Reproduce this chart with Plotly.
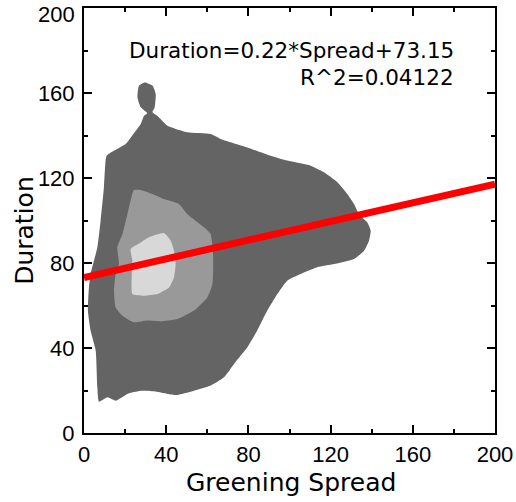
import plotly.graph_objects as go

# Regression fit reported on the chart
slope = 0.22
intercept = 73.15
r_squared = 0.04122

# Density contour outlines (Greening Spread, Duration)
outer_x = [11.0, 13.0, 20.3, 23.5, 27.6, 29.2, 30.8, 27.6, 26.0, 26.8, 29.5, 33.3, 34.9, 34.4,
           33.3, 35.7, 40.6, 50.3, 61.6, 66.5, 79.5, 89.2, 98.9, 110.3, 116.8, 123.3, 128.1,
           131.4, 133.8, 137.9, 139.5, 138.7, 136.3, 131.4, 121.7, 113.5, 105.4, 98.9, 94.1,
           89.2, 84.3, 79.5, 73.0, 68.1, 61.6, 53.5, 45.4, 40.6, 34.1, 27.6, 21.1, 15.4, 11.4,
           7.3, 6.5, 5.7, 3.2, 1.9, 2.4, 3.2, 6.5, 8.1, 9.7, 10.5]
outer_y = [130.5, 132.0, 136.0, 140.0, 145.4, 149.3, 150.5, 153.3, 158.0, 163.5, 165.0, 163.5,
           159.5, 153.3, 151.0, 149.3, 144.6, 141.5, 140.7, 138.4, 134.4, 131.0, 128.2, 125.8,
           122.7, 118.0, 112.5, 107.8, 103.0, 99.1, 95.2, 90.5, 85.8, 81.9, 79.5, 78.0, 74.8,
           71.7, 65.4, 57.6, 48.2, 40.3, 32.5, 26.2, 22.3, 19.9, 17.9, 18.4, 19.6, 19.9, 18.4,
           15.2, 16.8, 14.7, 21.5, 38.7, 48.2, 57.6, 68.5, 74.8, 87.4, 100.0, 115.6, 128.2]

middle_x = [24.3, 27.6, 33.3, 38.9, 46.2, 50.3, 58.4, 61.6, 62.8, 62.5, 60.0, 53.5, 45.4, 37.3,
            30.8, 24.3, 18.7, 15.4, 14.6, 15.4, 17.0, 16.2, 18.7, 21.1, 23.5]
middle_y = [114.4, 114.4, 112.5, 110.1, 107.8, 103.0, 96.8, 93.6, 84.2, 70.1, 63.8, 57.6, 53.6,
            52.5, 52.9, 52.1, 55.2, 59.1, 67.0, 74.8, 79.5, 87.4, 93.6, 103.0, 112.5]

inner_x = [22.7, 27.6, 31.6, 38.9, 42.2, 43.8, 44.6, 43.8, 41.4, 35.7, 29.2, 23.5, 23.2, 23.5]
inner_y = [86.6, 89.7, 92.1, 94.1, 90.5, 85.8, 79.5, 73.3, 68.5, 65.4, 64.6, 65.4, 73.3, 81.2]

tick_vals = [0, 40, 80, 120, 160, 200]
tick_text = ["0", "40", "80", "120", "160", "200"]

fig = go.Figure()

levels = [
    (outer_x, outer_y, "#646464"),
    (middle_x, middle_y, "#999999"),
    (inner_x, inner_y, "#d8d8d8"),
]
for xs, ys, color in levels:
    fig.add_trace(go.Scatter(
        x=xs + [xs[0]], y=ys + [ys[0]], mode="lines", fill="toself",
        fillcolor=color, line=dict(width=0, color=color, shape="spline", smoothing=0.5),
        hoverinfo="skip",
    ))

fit_x = [0, 200]
fit_y = [slope * v + intercept for v in fit_x]
fig.add_trace(go.Scatter(x=fit_x, y=fit_y, mode="lines",
                         line=dict(color="#ff0000", width=7)))

tick_font = dict(family="Liberation Sans", size=22, color="black")
axis_common = dict(
    range=[0, 200], tickvals=tick_vals,
    ticks="inside", ticklen=8, tickwidth=2, tickcolor="black",
    showline=True, linewidth=2, linecolor="black", mirror="ticks",
    showgrid=False, zeroline=False, ticklabeloverflow="allow", automargin=False,
    tickfont=tick_font,
    minor=dict(dtick=20, ticks="inside", ticklen=4, tickwidth=2, tickcolor="black",
               showgrid=False),
)

# The top y label sits just below the frame so it stays on the page;
# it is drawn separately, the rest come from the axis.
y_tick_text = tick_text[:-1] + [""]

fig.update_layout(
    width=516, height=502,
    margin=dict(l=84, r=21, t=8, b=69, autoexpand=False),
    plot_bgcolor="white", paper_bgcolor="white",
    showlegend=False,
    xaxis=dict(**axis_common, ticktext=tick_text, ticklabelstandoff=1),
    yaxis=dict(**axis_common, ticktext=y_tick_text, ticklabelstandoff=3),
)

fig.add_annotation(text=tick_text[-1], xref="paper", yref="paper",
                   x=-0.0195, y=0.984, xanchor="right", yanchor="middle",
                   showarrow=False, font=tick_font, borderpad=0)

title_font = dict(family="DejaVu Sans", size=25, color="black")
fig.add_annotation(text="Greening Spread", xref="paper", yref="paper",
                   x=0.504, y=-0.1176, xanchor="center", yanchor="middle",
                   showarrow=False, font=title_font)
fig.add_annotation(text="Duration", xref="paper", yref="paper",
                   x=-0.1436, y=0.478, xanchor="center", yanchor="middle",
                   textangle=-90, showarrow=False, font=title_font)

eq_font = dict(family="DejaVu Sans", size=21.5, color="black")
fig.add_annotation(text=f"Duration={slope:.2f}*Spread+{intercept:.2f}", xref="x", yref="y",
                   x=181, y=179.8, xanchor="right", yanchor="middle",
                   showarrow=False, font=eq_font)
fig.add_annotation(text=f"R^2={r_squared:.5f}", xref="x", yref="y",
                   x=181, y=167.5, xanchor="right", yanchor="middle",
                   showarrow=False, font=eq_font)

fig.write_html("out.html")
